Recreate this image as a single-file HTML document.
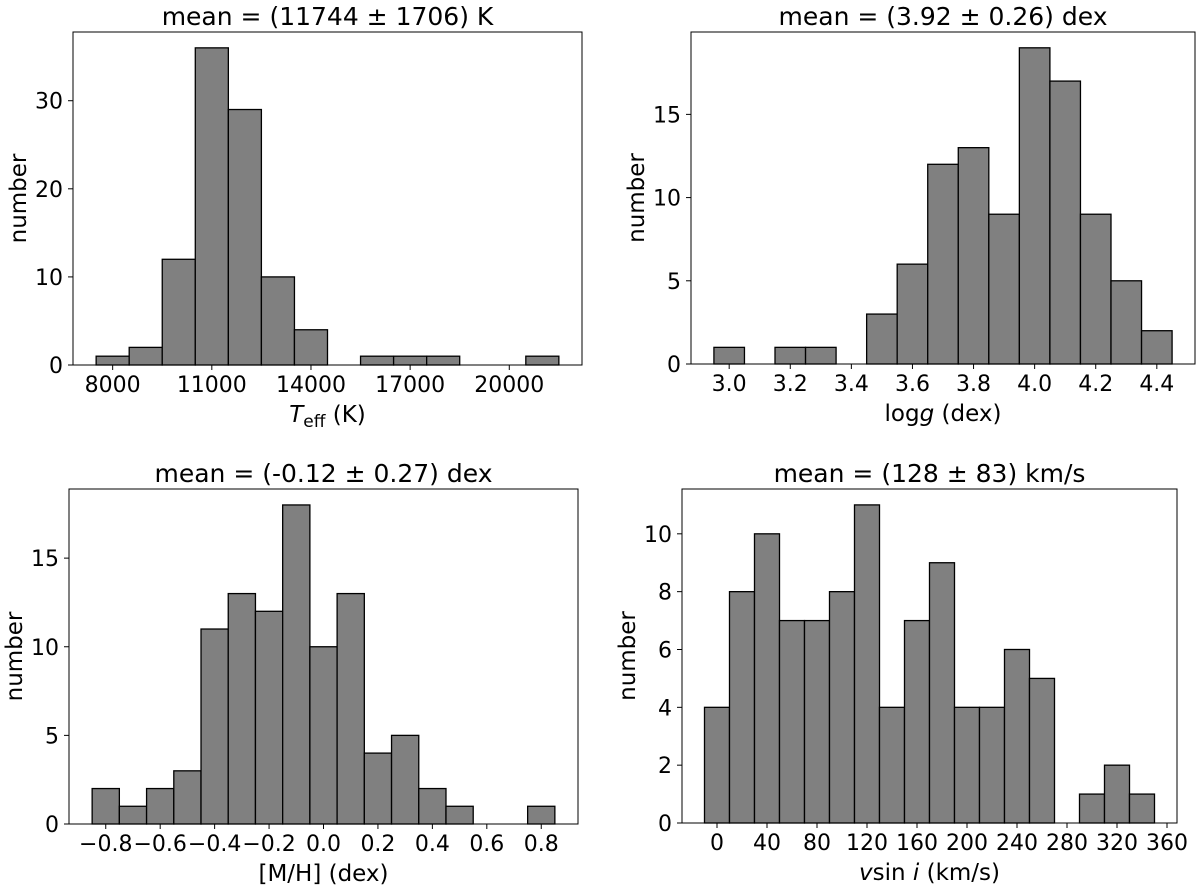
<!DOCTYPE html>
<html><head><meta charset="utf-8"><style>
body{margin:0;background:#fff}
svg{display:block;font-family:"DejaVu Sans","Liberation Sans",sans-serif}
</style></head><body>
<svg id="fig" width="1200" height="887" viewBox="0 0 1200 887" xmlns="http://www.w3.org/2000/svg"></svg>
<script>
const teffBins=[8000,9000,10000,11000,12000,13000,14000,15000,16000,17000,18000,19000,20000,21000];
const teffCounts=[1,2,12,36,29,10,4,0,1,1,1,0,0,1];
const teffTicks=[8000,11000,14000,17000,20000];
const teffYTicks=[0,10,20,30];
const loggBins=[3.0,3.1,3.2,3.3,3.4,3.5,3.6,3.7,3.8,3.9,4.0,4.1,4.2,4.3,4.4];
const loggCounts=[1,0,1,1,0,3,6,12,13,9,19,17,9,5,2];
const loggTicks=[3.0,3.2,3.4,3.6,3.8,4.0,4.2,4.4];
const loggYTicks=[0,5,10,15];
const mhBins=[-0.8,-0.7,-0.6,-0.5,-0.4,-0.3,-0.2,-0.1,0.0,0.1,0.2,0.3,0.4,0.5,0.6,0.7,0.8];
const mhCounts=[2,1,2,3,11,13,12,18,10,13,4,5,2,1,0,0,1];
const mhTicks=[-0.8,-0.6,-0.4,-0.2,0.0,0.2,0.4,0.6,0.8];
const mhYTicks=[0,5,10,15];
const vsiniBins=[0,20,40,60,80,100,120,140,160,180,200,220,240,260,280,300,320,340];
const vsiniCounts=[4,8,10,7,7,8,11,4,7,9,4,4,6,5,0,1,2,1];
const vsiniTicks=[0,40,80,120,160,200,240,280,320,360];
const vsiniYTicks=[0,2,4,6,8,10];

const NS="http://www.w3.org/2000/svg";
const fig=document.getElementById('fig');
function mk(tag,attrs,parent){const e=document.createElementNS(NS,tag);for(const k in attrs)e.setAttribute(k,attrs[k]);(parent||fig).appendChild(e);return e;}

function panel(o){
  const g=mk('g',{});
  
  
  const w=o.binW, lo=o.bins[0]-w/2, hi=o.bins[o.bins.length-1]+w/2, pad=(hi-lo)*0.05;
  const xmin=lo-pad, xmax=hi+pad;
  const ymax=Math.max(...o.counts)*1.05;
  const X=v=>o.L+(v-xmin)/(xmax-xmin)*(o.R-o.L);
  const Y=v=>o.B-v/ymax*(o.B-o.T);
  o.bins.forEach((b,i)=>{
    if(o.counts[i]<=0)return;
    const r=mk('rect',{x:X(b-w/2),y:Y(o.counts[i]),width:X(b+w/2)-X(b-w/2),height:Y(0)-Y(o.counts[i]),fill:'#808080',stroke:'#000','stroke-width':1.3},g);
    
    
  });
  const f=mk('rect',{x:o.L,y:o.T,width:o.R-o.L,height:o.B-o.T,fill:'none',stroke:'#000','stroke-width':1},g);
  
  
  o.xticks.forEach(t=>{
    const x=X(t);
    mk('line',{x1:x,y1:o.B,x2:x,y2:o.B+5,stroke:'#000','stroke-width':1},g);
    const tx=mk('text',{x:x,y:o.B+27,'font-size':22,'text-anchor':'middle'},g);
    tx.textContent=o.fmtX(t);
    
    
  });
  o.yticks.forEach(t=>{
    const y=Y(t);
    mk('line',{x1:o.L-5,y1:y,x2:o.L,y2:y,stroke:'#000','stroke-width':1},g);
    const tx=mk('text',{x:o.L-10,y:y+8,'font-size':22,'text-anchor':'end'},g);
    tx.textContent=String(t);
    
    
  });
  const ti=mk('text',{x:(o.L+o.R)/2,y:o.T-7,'font-size':25,'text-anchor':'middle'},g);
  ti.textContent=o.title;
  
  
  const yl=mk('text',{x:0,y:0,'font-size':23,'text-anchor':'middle',transform:`translate(${o.L-47},${(o.T+o.B)/2}) rotate(-90)`},g);
  yl.textContent='number';
  
  
  const xl=mk('text',{x:(o.L+o.R)/2,y:o.B+57,'font-size':23,'text-anchor':'middle'},g);
  xl.innerHTML=o.xlabel;
  
  
}
const minus=s=>s.replace('-','\u2212');
panel({name:'teff-histogram',key:'teff',L:73,R:582,T:32,B:365,bins:teffBins,counts:teffCounts,binW:1000,xticks:teffTicks,yticks:teffYTicks,fmtX:t=>String(t),title:'mean = (11744 \u00b1 1706) K',xlabel:'<tspan font-style="italic">T</tspan><tspan font-size="17" dy="5">eff</tspan><tspan dy="-5"> (K)</tspan>'});
panel({name:'logg-histogram',key:'logg',L:691,R:1195,T:32,B:364,bins:loggBins,counts:loggCounts,binW:0.1,xticks:loggTicks,yticks:loggYTicks,fmtX:t=>t.toFixed(1),title:'mean = (3.92 \u00b1 0.26) dex',xlabel:'log<tspan font-style="italic">g</tspan> (dex)'});
panel({name:'metallicity-histogram',key:'mh',L:69,R:578,T:489,B:824,bins:mhBins,counts:mhCounts,binW:0.1,xticks:mhTicks,yticks:mhYTicks,fmtX:t=>minus(t.toFixed(1)),title:'mean = (-0.12 \u00b1 0.27) dex',xlabel:'[M/H] (dex)'});
panel({name:'vsini-histogram',key:'vsini',L:682,R:1177,T:489,B:823,bins:vsiniBins,counts:vsiniCounts,binW:20,xticks:vsiniTicks,yticks:vsiniYTicks,fmtX:t=>String(t),title:'mean = (128 \u00b1 83) km/s',xlabel:'<tspan font-style="italic">v</tspan>sin<tspan font-style="italic"> i</tspan> (km/s)'});
</script>
</body></html>
